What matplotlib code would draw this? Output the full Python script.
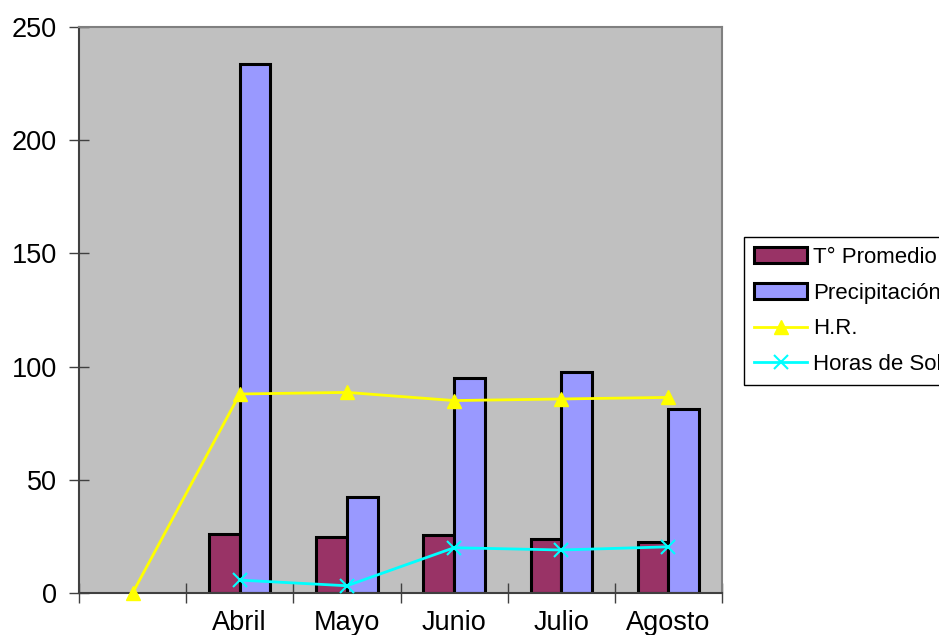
import numpy as np
import matplotlib.pyplot as plt

plt.rcParams['font.family'] = ['Liberation Sans', 'DejaVu Sans']

meses = ['', 'Abril', 'Mayo', 'Junio', 'Julio', 'Agosto']
temp_promedio = [np.nan, 25.9, 24.6, 25.6, 23.7, 22.5]
precipitacion = [np.nan, 233.5, 42.5, 94.8, 97.8, 81.3]
humedad_rel = [0, 87.9, 88.6, 85.0, 85.7, 86.4]
horas_sol = [np.nan, 5.7, 3.2, 20.0, 19.0, 20.4]

fig = plt.figure(figsize=(9.39, 6.35), dpi=100)
ax = fig.add_axes([79 / 939, 42 / 635, 643 / 939, 566 / 635])
ax.set_facecolor('#C0C0C0')

x = np.arange(len(meses)) + 0.5
w = 1 / 3.5

b1 = ax.bar(x - w / 2, temp_promedio, w, color='#993366', edgecolor='black',
            linewidth=2.2, label='T° Promedio', zorder=2)
b2 = ax.bar(x + w / 2, precipitacion, w, color='#9999FF', edgecolor='black',
            linewidth=2.2, label='Precipitación', zorder=2)
l1, = ax.plot(x, humedad_rel, color='#FFFF00', lw=2, marker='^', ms=10,
              label='H.R.', zorder=3, clip_on=False)
l2, = ax.plot(x, horas_sol, color='#00FFFF', lw=2, marker='x', ms=10, mew=1.5,
              label='Horas de Sol', zorder=3)

ax.set_xlim(0, len(meses))
ax.set_ylim(0, 250)
ax.set_yticks(range(0, 251, 50))
ax.set_xticks(range(len(meses) + 1))
ax.set_xticklabels([])
ax.set_xticks(x, minor=True)
ax.set_xticklabels(meses, minor=True)
ax.tick_params(axis='x', which='minor', length=0, pad=12.5, labelsize=19.5)
ax.tick_params(axis='x', which='major', direction='inout', length=14,
               width=1, color='#404040')
ax.tick_params(axis='y', direction='inout', length=14, width=1,
               color='#404040', labelsize=19.5, pad=9)

for s in ['top', 'right']:
    ax.spines[s].set_color('#808080')
    ax.spines[s].set_linewidth(1.5)
for s in ['left', 'bottom']:
    ax.spines[s].set_color('#404040')
    ax.spines[s].set_linewidth(1.5)

leg = fig.legend([b1, b2, l1, l2],
                 ['T° Promedio', 'Precipitación', 'H.R.', 'Horas de Sol'],
                 loc='upper left', bbox_to_anchor=(744 / 939, 1 - 237 / 635),
                 fontsize=16, frameon=True, fancybox=False, edgecolor='black',
                 framealpha=1, handlelength=2.4, handletextpad=0.27,
                 labelspacing=0.66, borderpad=0.45, borderaxespad=0)
leg.get_frame().set_linewidth(1)

plt.savefig('out.png', dpi=100)
